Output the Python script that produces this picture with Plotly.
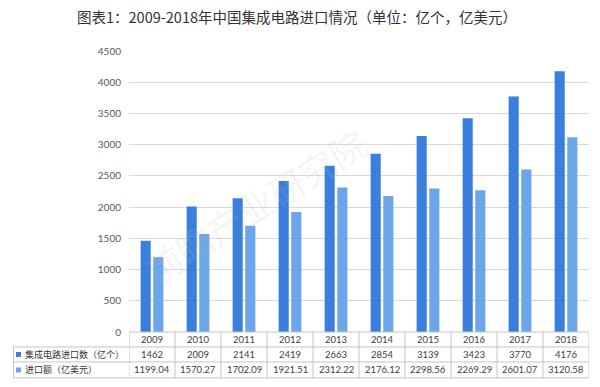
import plotly.graph_objects as go

years = ["2009", "2010", "2011", "2012", "2013", "2014", "2015", "2016", "2017", "2018"]
qty_name = "集成电路进口数（亿个）"
val_name = "进口额（亿美元）"
qty = [1462, 2009, 2141, 2419, 2663, 2854, 3139, 3423, 3770, 4176]
val = [1199.04, 1570.27, 1702.09, 1921.51, 2312.22, 2176.12, 2298.56, 2269.29, 2601.07, 3120.58]
qty_labels = ["1462", "2009", "2141", "2419", "2663", "2854", "3139", "3423", "3770", "4176"]
val_labels = ["1199.04", "1570.27", "1702.09", "1921.51", "2312.22", "2176.12", "2298.56", "2269.29", "2601.07", "3120.58"]
title = "图表1：2009-2018年中国集成电路进口情况（单位：亿个，亿美元）"

C1 = "#3b7fde"
C2 = "#6ba5ea"
GRID = "#d9d9d9"
TBL = "#c4c4c4"
TXT = "#404040"
FONT = "Lato, 'Noto Sans CJK SC', sans-serif"
CJK = "'Noto Sans CJK SC', sans-serif"

fig = go.Figure()
fig.add_trace(go.Bar(x=years, y=qty, name=qty_name, marker=dict(color=C1, line=dict(width=0))))
fig.add_trace(go.Bar(x=years, y=val, name=val_name, marker=dict(color=C2, line=dict(width=0))))

L, R, T, B = 129, 11, 51, 54.5
W, H = 600, 387
ph = H - T - B


def py(ypx):
    return (H - B - ypx) / ph


def px(xpx):
    return (xpx - L) / (W - L - R)


shapes = []
row_y = [332.5, 347.5, 362.5, 378.5]
shapes.append(dict(type="line", xref="paper", yref="paper", x0=0, x1=1, y0=py(row_y[0]), y1=py(row_y[0]),
                   line=dict(color=TBL, width=1), layer="above"))
for yy in row_y[1:]:
    shapes.append(dict(type="line", xref="paper", yref="paper", x0=px(13), x1=1, y0=py(yy), y1=py(yy),
                       line=dict(color=TBL, width=1), layer="above"))
shapes.append(dict(type="line", xref="paper", yref="paper", x0=px(13.5), x1=px(13.5), y0=py(row_y[1]), y1=py(row_y[3]),
                   line=dict(color=TBL, width=1), layer="above"))
for k in range(len(years) + 1):
    shapes.append(dict(type="line", xref="x", yref="paper", x0=k - 0.5, x1=k - 0.5, y0=py(row_y[0]), y1=py(row_y[3]),
                       line=dict(color=TBL, width=1), layer="above"))
for i, c in enumerate([C1, C2]):
    yc = (row_y[1 + i] + row_y[2 + i]) / 2
    shapes.append(dict(type="rect", xref="paper", yref="paper", x0=px(16), x1=px(21), y0=py(yc + 2.5), y1=py(yc - 2.5),
                       fillcolor=c, line=dict(width=0), layer="above"))

ann = []
for i, y in enumerate(years):
    rows = [y, qty_labels[i], val_labels[i]]
    for r, txt in enumerate(rows):
        ann.append(dict(x=i, xref="x", y=py((row_y[r] + row_y[r + 1]) / 2), yref="paper", text=txt,
                        xanchor="center", yanchor="middle",
                        showarrow=False, font=dict(size=9.5, color=TXT, family=FONT)))
for i, nm in enumerate([qty_name, val_name]):
    ann.append(dict(x=px(23), xref="paper", xanchor="left", yanchor="middle",
                    y=py((row_y[1 + i] + row_y[2 + i]) / 2), yref="paper",
                    text=nm, showarrow=False, font=dict(size=9, color="#333333", family=CJK)))
ann.append(dict(x=px(255), xref="paper", y=py(205), yref="paper", text="前瞻产业研究院", showarrow=False,
                xanchor="center", yanchor="middle",
                textangle=-32, font=dict(size=36, color="rgba(190,190,190,0.16)", family=CJK)))

fig.update_layout(
    width=W, height=H,
    margin=dict(l=L, r=R, t=T, b=B, pad=0),
    paper_bgcolor="white", plot_bgcolor="white",
    barmode="group", bargap=0.45, bargroupgap=0.2,
    showlegend=False,
    title=dict(text=title, x=0.495, xanchor="center", y=1 - 18 / H, yanchor="middle",
               font=dict(size=14.5, color="#333333", family=CJK)),
    xaxis=dict(type="category", showticklabels=False, showgrid=False, zeroline=False, showline=False,
               ticks="", range=[-0.5, len(years) - 0.5]),
    yaxis=dict(range=[0, 4500], dtick=500, tick0=0, showgrid=True, gridcolor=GRID, gridwidth=1,
               zeroline=False, showline=False, ticks="", ticklabelstandoff=7,
               tickfont=dict(size=10, color="#595959", family=FONT)),
    shapes=shapes,
    annotations=ann,
)

fig.write_html("out.html", config={"displayModeBar": False},
               post_script="document.body.style.margin='0';document.body.style.overflow='hidden';")
